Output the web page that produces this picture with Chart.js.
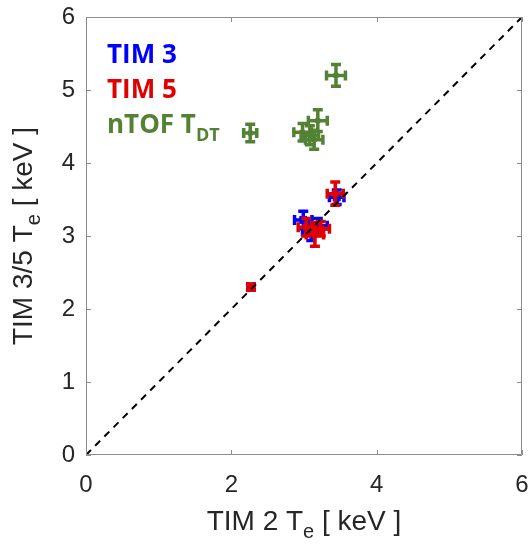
<!DOCTYPE html>
<html>
<head>
<meta charset="utf-8">
<script src="https://cdn.jsdelivr.net/npm/chart.js@4"></script>
<style>
  html, body { margin: 0; padding: 0; background: #fff; }
  canvas { display: block; }
</style>
</head>
<body>
<canvas id="chart" width="528" height="546"></canvas>
<script>
// TIM 3 vs TIM 2
const tim3X = [2.27, 2.99, 3.1, 3.19, 3.45];
const tim3Y = [2.3, 3.22, 3.06, 3.14, 3.53];
const tim3XErr = [0.04, 0.12, 0.12, 0.13, 0.1];
const tim3YErr = [0.04, 0.12, 0.12, 0.1, 0.1];

// TIM 5 vs TIM 2
const tim5X = [2.27, 3.03, 3.15, 3.23, 3.43];
const tim5Y = [2.3, 3.12, 3.02, 3.1, 3.58];
const tim5XErr = [0.04, 0.11, 0.12, 0.12, 0.11];
const tim5YErr = [0.04, 0.12, 0.16, 0.1, 0.16];

// nTOF T_DT vs TIM 2
const ntofX = [2.26, 2.98, 3.08, 3.14, 3.19, 3.44];
const ntofY = [4.41, 4.42, 4.38, 4.32, 4.58, 5.2];
const ntofXErr = [0.09, 0.12, 0.12, 0.12, 0.13, 0.13];
const ntofYErr = [0.12, 0.12, 0.13, 0.13, 0.15, 0.15];

const diagX = [0, 6];
const axisMin = 0, axisMax = 6;

const BLUE = '#0000ff';
const RED = '#e00000';
const GREEN = '#548235';

function pts(xs, ys, xe, ye) {
  return xs.map((x, i) => ({ x: x, y: ys[i], xe: xe ? xe[i] : 0, ye: ye ? ye[i] : 0 }));
}

// error bars drawn right after each dataset so the stacking matches
const errorBars = {
  id: 'errorBars',
  afterDatasetDraw(chart, args) {
    const ds = chart.data.datasets[args.index];
    if (!ds.errorBars) return;
    const ctx = chart.ctx;
    const xs = chart.scales.x, ys = chart.scales.y;
    const cap = 5;
    ctx.save();
    ctx.strokeStyle = ds.borderColor;
    ctx.lineWidth = 3.5;
    ctx.lineCap = 'butt';
    ds.data.forEach(p => {
      const cx = xs.getPixelForValue(p.x), cy = ys.getPixelForValue(p.y);
      const x0 = xs.getPixelForValue(p.x - p.xe), x1 = xs.getPixelForValue(p.x + p.xe);
      const y0 = ys.getPixelForValue(p.y - p.ye), y1 = ys.getPixelForValue(p.y + p.ye);
      ctx.beginPath();
      ctx.moveTo(x0, cy); ctx.lineTo(x1, cy);
      ctx.moveTo(cx, y0); ctx.lineTo(cx, y1);
      ctx.moveTo(x0, cy - cap); ctx.lineTo(x0, cy + cap);
      ctx.moveTo(x1, cy - cap); ctx.lineTo(x1, cy + cap);
      ctx.moveTo(cx - cap, y0); ctx.lineTo(cx + cap, y0);
      ctx.moveTo(cx - cap, y1); ctx.lineTo(cx + cap, y1);
      ctx.stroke();
    });
    ctx.restore();
  }
};

function drawParts(ctx, x, y, parts, align) {
  // parts: [text, font, dy]
  let total = 0;
  parts.forEach(p => { ctx.font = p[1]; total += ctx.measureText(p[0]).width; });
  let cx = align === 'center' ? x - total / 2 : x;
  parts.forEach(p => {
    ctx.font = p[1];
    ctx.fillText(p[0], cx, y + (p[2] || 0));
    cx += ctx.measureText(p[0]).width;
  });
}

const decorations = {
  id: 'decorations',
  afterDraw(chart) {
    const ctx = chart.ctx;
    const a = chart.chartArea;
    const xs = chart.scales.x, ys = chart.scales.y;
    ctx.save();
    // box and inward ticks
    ctx.strokeStyle = '#8c8c8c';
    ctx.lineWidth = 1;
    ctx.beginPath();
    ctx.rect(a.left + 0.5, a.top + 0.5, a.right - a.left - 1, a.bottom - a.top - 1);
    xs.ticks.forEach(t => {
      const px = Math.round(xs.getPixelForValue(t.value)) + 0.5;
      ctx.moveTo(px, a.bottom); ctx.lineTo(px, a.bottom - 5);
      ctx.moveTo(px, a.top); ctx.lineTo(px, a.top + 5);
    });
    ys.ticks.forEach(t => {
      const py = Math.round(ys.getPixelForValue(t.value)) + 0.5;
      ctx.moveTo(a.left, py); ctx.lineTo(a.left + 5, py);
      ctx.moveTo(a.right, py); ctx.lineTo(a.right - 5, py);
    });
    ctx.stroke();

    // in-plot legend text
    ctx.textBaseline = 'alphabetic';
    ctx.textAlign = 'left';
    const lf = 'bold 26px "Open Sans"';
    ctx.fillStyle = BLUE;
    drawParts(ctx, 107, 63, [['TIM 3', lf]]);
    ctx.fillStyle = RED;
    drawParts(ctx, 107, 98, [['TIM 5', lf]]);
    ctx.fillStyle = GREEN;
    drawParts(ctx, 107, 133, [['nTOF T', lf], ['DT', 'bold 18px "Open Sans"', 8]]);

    // axis titles
    ctx.fillStyle = '#262626';
    const tf = '28px "Liberation Sans"';
    const sf = '20px "Liberation Sans"';
    const midX = (a.left + a.right) / 2;
    drawParts(ctx, midX, 530, [['TIM 2 T', tf], ['e', sf, 8], [' [ keV ]', tf]], 'center');
    ctx.translate(32, (a.top + a.bottom) / 2);
    ctx.rotate(-Math.PI / 2);
    drawParts(ctx, 0, 0, [['TIM 3/5 T', tf], ['e', sf, 8], [' [ keV ]', tf]], 'center');
    ctx.restore();
  }
};

new Chart(document.getElementById('chart'), {
  type: 'scatter',
  data: {
    datasets: [
      {
        label: 'diagonal',
        type: 'line',
        data: diagX.map(v => ({ x: v, y: v })),
        borderColor: '#000',
        borderWidth: 2,
        borderDash: [7, 6],
        pointRadius: 0,
        fill: false,
        order: 0
      },
      {
        label: 'TIM 5',
        data: pts(tim5X, tim5Y, tim5XErr, tim5YErr),
        borderColor: RED,
        backgroundColor: RED,
        pointStyle: 'rect',
        pointRadius: 4,
        errorBars: true,
        order: 1
      },
      {
        label: 'TIM 3',
        data: pts(tim3X, tim3Y, tim3XErr, tim3YErr),
        borderColor: BLUE,
        backgroundColor: BLUE,
        pointStyle: 'rect',
        pointRadius: 5,
        errorBars: true,
        order: 2
      },
      {
        label: 'nTOF T_DT',
        data: pts(ntofX, ntofY, ntofXErr, ntofYErr),
        borderColor: GREEN,
        backgroundColor: GREEN,
        pointStyle: 'rect',
        pointRadius: 3,
        errorBars: true,
        order: 3
      }
    ]
  },
  options: {
    responsive: false,
    animation: false,
    devicePixelRatio: 1,
    layout: { padding: { left: 0, top: 17, right: 6, bottom: 0 } },
    plugins: { legend: { display: false }, tooltip: { enabled: false } },
    scales: {
      x: {
        type: 'linear',
        min: axisMin, max: axisMax,
        grid: { display: false, drawTicks: false },
        border: { display: false },
        ticks: { stepSize: 2, padding: 16, color: '#262626', font: { family: 'Liberation Sans', size: 24 } },
        afterFit(scale) { scale.height = 91; scale.paddingLeft = 0; scale.paddingRight = 0; }
      },
      y: {
        type: 'linear',
        min: axisMin, max: axisMax,
        grid: { display: false, drawTicks: false },
        border: { display: false },
        ticks: { stepSize: 1, padding: 11, color: '#262626', font: { family: 'Liberation Sans', size: 24 } },
        afterFit(scale) { scale.width = 86; scale.paddingTop = 0; scale.paddingBottom = 0; }
      }
    }
  },
  plugins: [errorBars, decorations]
});
</script>
</body>
</html>
